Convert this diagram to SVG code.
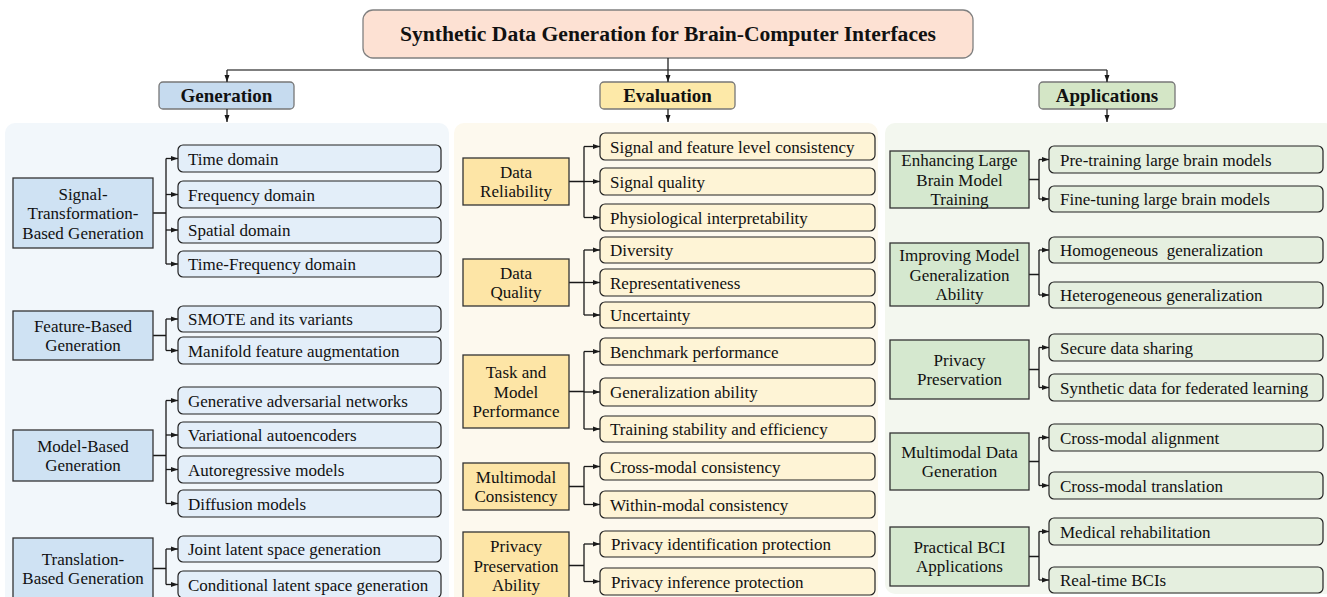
<svg xmlns="http://www.w3.org/2000/svg" width="1327" height="597" viewBox="0 0 1327 597">
<defs>
<marker id="ah" markerUnits="userSpaceOnUse" markerWidth="7" markerHeight="6" refX="7" refY="3" orient="auto">
<path d="M0,0.5 L7,3 L0,5.5 z" fill="#1a1a1a"/>
</marker>
<style>
text{font-family:"Liberation Serif","Times New Roman",serif;fill:#111}
.title{font-size:21.6px;font-weight:bold;text-anchor:middle}
.hdr{font-size:19px;font-weight:bold;text-anchor:middle}
.cat{font-size:17px;text-anchor:middle}
.leaf{font-size:17px}
.gc{fill:#cfe2f3;stroke:#333;stroke-width:1.3}
.gl{fill:#e3eef9;stroke:#222;stroke-width:1.2}
.ec{fill:#fde5a6;stroke:#333;stroke-width:1.3}
.el{fill:#fef4d6;stroke:#222;stroke-width:1.2}
.ac{fill:#d5e8cf;stroke:#333;stroke-width:1.3}
.al{fill:#e5efdf;stroke:#222;stroke-width:1.2}
.br{fill:none;stroke:#1a1a1a;stroke-width:1.3}
.ar{fill:none;stroke:#1a1a1a;stroke-width:1.3;marker-end:url(#ah)}
.top{fill:none;stroke:#555;stroke-width:1.4}
.topa{fill:none;stroke:#222;stroke-width:1.3;marker-end:url(#ah)}
</style>
</defs>
<rect width="1327" height="597" fill="#ffffff"/>
<g id="panels">
<rect x="5" y="123" width="444" height="490" rx="10" fill="#f2f7fb"/>
<rect x="454" y="123" width="424" height="490" rx="10" fill="#fdf9ee"/>
<rect x="885" y="123" width="450" height="471" rx="10" fill="#f3f7ef"/>
</g>
<g id="title">
<rect x="363" y="10" width="610" height="48" rx="10" fill="#fde1d3" stroke="#808080" stroke-width="1.3"/>
<text class="title" x="668" y="41">Synthetic Data Generation for Brain-Computer Interfaces</text>
</g>
<g id="hdr-generation">
<rect x="159" y="82" width="135" height="27" rx="4" fill="#c6dbef" stroke="#777" stroke-width="1.3"/>
<text class="hdr" x="226.5" y="102">Generation</text>
</g>
<g id="hdr-evaluation">
<rect x="600" y="82" width="135" height="27" rx="4" fill="#fde9a8" stroke="#777" stroke-width="1.3"/>
<text class="hdr" x="667.5" y="102">Evaluation</text>
</g>
<g id="hdr-applications">
<rect x="1039" y="82" width="136" height="27" rx="4" fill="#d4e6c6" stroke="#777" stroke-width="1.3"/>
<text class="hdr" x="1107" y="102">Applications</text>
</g>

<g id="connectors">
<path class="top" d="M227,70 H1107"/>
<path class="topa" d="M668,58 V82"/>
<path class="topa" d="M227,70 V82"/>
<path class="topa" d="M1107,70 V82"/>
<path class="topa" d="M227,109 V122"/>
<path class="topa" d="M668,109 V122"/>
<path class="topa" d="M1107,109 V122"/>
<!-- Generation -->
<path class="br" d="M153,213 H166 M166,158.5 V264"/>
<path class="ar" d="M166,158.5 H178"/><path class="ar" d="M166,194.5 H178"/><path class="ar" d="M166,230 H178"/><path class="ar" d="M166,264 H178"/>
<path class="br" d="M153,335.5 H166 M166,319 V350.5"/>
<path class="ar" d="M166,319 H178"/><path class="ar" d="M166,350.5 H178"/>
<path class="br" d="M153,455.5 H166 M166,400.5 V503.5"/>
<path class="ar" d="M166,400.5 H178"/><path class="ar" d="M166,435 H178"/><path class="ar" d="M166,469.5 H178"/><path class="ar" d="M166,503.5 H178"/>
<path class="br" d="M153,568.5 H166 M166,549 V584.5"/>
<path class="ar" d="M166,549 H178"/><path class="ar" d="M166,584.5 H178"/>
<!-- Evaluation -->
<path class="br" d="M569,181.5 H584 M584,146.5 V217.5"/>
<path class="ar" d="M584,146.5 H600"/><path class="ar" d="M584,181.5 H600"/><path class="ar" d="M584,217.5 H600"/>
<path class="br" d="M569,282.5 H584 M584,250 V315"/>
<path class="ar" d="M584,250 H600"/><path class="ar" d="M584,282.5 H600"/><path class="ar" d="M584,315 H600"/>
<path class="br" d="M569,391.5 H584 M584,351.5 V429"/>
<path class="ar" d="M584,351.5 H600"/><path class="ar" d="M584,392 H600"/><path class="ar" d="M584,429 H600"/>
<path class="br" d="M569,486.5 H584 M584,466.5 V504.5"/>
<path class="ar" d="M584,466.5 H600"/><path class="ar" d="M584,504.5 H600"/>
<path class="br" d="M569,565.5 H584 M584,544 V581.5"/>
<path class="ar" d="M584,544 H600"/><path class="ar" d="M584,581.5 H600"/>
<!-- Applications -->
<path class="br" d="M1029,179.5 H1039 M1039,159.5 V199"/>
<path class="ar" d="M1039,159.5 H1049"/><path class="ar" d="M1039,199 H1049"/>
<path class="br" d="M1029,274.5 H1039 M1039,250 V295"/>
<path class="ar" d="M1039,250 H1049"/><path class="ar" d="M1039,295 H1049"/>
<path class="br" d="M1029,369.5 H1039 M1039,347.5 V387.5"/>
<path class="ar" d="M1039,347.5 H1049"/><path class="ar" d="M1039,387.5 H1049"/>
<path class="br" d="M1029,461.5 H1039 M1039,437.5 V485.5"/>
<path class="ar" d="M1039,437.5 H1049"/><path class="ar" d="M1039,485.5 H1049"/>
<path class="br" d="M1029,556.5 H1039 M1039,531.5 V580"/>
<path class="ar" d="M1039,531.5 H1049"/><path class="ar" d="M1039,580 H1049"/>
</g>

<!-- Generation categories -->
<g id="gen-signal"><rect class="gc" x="13" y="178" width="140" height="70"/>
<text class="cat" x="83" y="199.5">Signal-</text><text class="cat" x="83" y="219">Transformation-</text><text class="cat" x="83" y="238.5">Based Generation</text></g>
<g id="gen-feature"><rect class="gc" x="13" y="311" width="140" height="49"/>
<text class="cat" x="83" y="331.75">Feature-Based</text><text class="cat" x="83" y="351.25">Generation</text></g>
<g id="gen-model"><rect class="gc" x="13" y="430" width="140" height="51"/>
<text class="cat" x="83" y="451.75">Model-Based</text><text class="cat" x="83" y="471.25">Generation</text></g>
<g id="gen-translation"><rect class="gc" x="13" y="538" width="140" height="62"/>
<text class="cat" x="83" y="564.75">Translation-</text><text class="cat" x="83" y="584.25">Based Generation</text></g>

<!-- Generation leaves -->
<g id="gen-l1"><rect class="gl" x="178" y="145" width="263" height="27" rx="5"/><text class="leaf" x="188" y="164.5">Time domain</text></g>
<g id="gen-l2"><rect class="gl" x="178" y="181" width="263" height="27" rx="5"/><text class="leaf" x="188" y="200.5">Frequency domain</text></g>
<g id="gen-l3"><rect class="gl" x="178" y="217" width="263" height="26" rx="5"/><text class="leaf" x="188" y="236">Spatial domain</text></g>
<g id="gen-l4"><rect class="gl" x="178" y="251" width="263" height="26" rx="5"/><text class="leaf" x="188" y="270">Time-Frequency domain</text></g>
<g id="gen-l5"><rect class="gl" x="178" y="306" width="263" height="26" rx="5"/><text class="leaf" x="188" y="325">SMOTE and its variants</text></g>
<g id="gen-l6"><rect class="gl" x="178" y="337" width="263" height="27" rx="5"/><text class="leaf" x="188" y="356.5">Manifold feature augmentation</text></g>
<g id="gen-l7"><rect class="gl" x="178" y="387" width="263" height="27" rx="5"/><text class="leaf" x="188" y="406.5">Generative adversarial networks</text></g>
<g id="gen-l8"><rect class="gl" x="178" y="422" width="263" height="26" rx="5"/><text class="leaf" x="188" y="441">Variational autoencoders</text></g>
<g id="gen-l9"><rect class="gl" x="178" y="456" width="263" height="27" rx="5"/><text class="leaf" x="188" y="475.5">Autoregressive models</text></g>
<g id="gen-l10"><rect class="gl" x="178" y="490" width="263" height="27" rx="5"/><text class="leaf" x="188" y="509.5">Diffusion models</text></g>
<g id="gen-l11"><rect class="gl" x="178" y="536" width="263" height="26" rx="5"/><text class="leaf" x="188" y="555">Joint latent space generation</text></g>
<g id="gen-l12"><rect class="gl" x="178" y="571" width="263" height="27" rx="5"/><text class="leaf" x="188" y="590.5">Conditional latent space generation</text></g>

<!-- Evaluation categories -->
<g id="eval-reliability"><rect class="ec" x="463" y="158" width="106" height="47"/>
<text class="cat" x="516" y="177.75">Data</text><text class="cat" x="516" y="197.25">Reliability</text></g>
<g id="eval-quality"><rect class="ec" x="463" y="259" width="106" height="47"/>
<text class="cat" x="516" y="278.75">Data</text><text class="cat" x="516" y="298.25">Quality</text></g>
<g id="eval-task"><rect class="ec" x="463" y="355" width="106" height="73"/>
<text class="cat" x="516" y="378">Task and</text><text class="cat" x="516" y="397.5">Model</text><text class="cat" x="516" y="417">Performance</text></g>
<g id="eval-multimodal"><rect class="ec" x="463" y="463" width="106" height="47"/>
<text class="cat" x="516" y="482.75">Multimodal</text><text class="cat" x="516" y="502.25">Consistency</text></g>
<g id="eval-privacy"><rect class="ec" x="463" y="532" width="106" height="68"/>
<text class="cat" x="516" y="552">Privacy</text><text class="cat" x="516" y="571.5">Preservation</text><text class="cat" x="516" y="591">Ability</text></g>

<!-- Evaluation leaves -->
<g id="eval-l1"><rect class="el" x="600" y="133" width="275" height="27" rx="5"/><text class="leaf" x="610" y="152.5">Signal and feature level consistency</text></g>
<g id="eval-l2"><rect class="el" x="600" y="168" width="275" height="27" rx="5"/><text class="leaf" x="610" y="187.5">Signal quality</text></g>
<g id="eval-l3"><rect class="el" x="600" y="204" width="275" height="27" rx="5"/><text class="leaf" x="610" y="223.5">Physiological interpretability</text></g>
<g id="eval-l4"><rect class="el" x="600" y="237" width="275" height="26" rx="5"/><text class="leaf" x="610" y="256">Diversity</text></g>
<g id="eval-l5"><rect class="el" x="600" y="269" width="275" height="27" rx="5"/><text class="leaf" x="610" y="288.5">Representativeness</text></g>
<g id="eval-l6"><rect class="el" x="600" y="302" width="275" height="26" rx="5"/><text class="leaf" x="610" y="321">Uncertainty</text></g>
<g id="eval-l7"><rect class="el" x="600" y="338" width="275" height="27" rx="5"/><text class="leaf" x="610" y="357.5">Benchmark performance</text></g>
<g id="eval-l8"><rect class="el" x="600" y="378" width="275" height="28" rx="5"/><text class="leaf" x="610" y="398">Generalization ability</text></g>
<g id="eval-l9"><rect class="el" x="600" y="416" width="275" height="26" rx="5"/><text class="leaf" x="610" y="435">Training stability and efficiency</text></g>
<g id="eval-l10"><rect class="el" x="600" y="453" width="275" height="27" rx="5"/><text class="leaf" x="610" y="472.5">Cross-modal consistency</text></g>
<g id="eval-l11"><rect class="el" x="600" y="491" width="275" height="27" rx="5"/><text class="leaf" x="610" y="510.5">Within-modal consistency</text></g>
<g id="eval-l12"><rect class="el" x="600" y="531" width="275" height="26" rx="5"/><text class="leaf" x="611" y="550">Privacy identification protection</text></g>
<g id="eval-l13"><rect class="el" x="600" y="568" width="275" height="27" rx="5"/><text class="leaf" x="611" y="587.5">Privacy inference protection</text></g>

<!-- Applications categories -->
<g id="app-enhancing"><rect class="ac" x="890" y="151" width="139" height="57"/>
<text class="cat" x="959.5" y="166">Enhancing Large</text><text class="cat" x="959.5" y="185.5">Brain Model</text><text class="cat" x="959.5" y="205">Training</text></g>
<g id="app-improving"><rect class="ac" x="890" y="243" width="139" height="63"/>
<text class="cat" x="959.5" y="261">Improving Model</text><text class="cat" x="959.5" y="280.5">Generalization</text><text class="cat" x="959.5" y="300">Ability</text></g>
<g id="app-privacy"><rect class="ac" x="890" y="340" width="139" height="59"/>
<text class="cat" x="959.5" y="365.75">Privacy</text><text class="cat" x="959.5" y="385.25">Preservation</text></g>
<g id="app-multimodal"><rect class="ac" x="890" y="433" width="139" height="57"/>
<text class="cat" x="959.5" y="457.75">Multimodal Data</text><text class="cat" x="959.5" y="477.25">Generation</text></g>
<g id="app-practical"><rect class="ac" x="890" y="527" width="139" height="59"/>
<text class="cat" x="959.5" y="552.75">Practical BCI</text><text class="cat" x="959.5" y="572.25">Applications</text></g>

<!-- Applications leaves -->
<g id="app-l1"><rect class="al" x="1049" y="146" width="274" height="27" rx="5"/><text class="leaf" x="1060" y="165.5">Pre-training large brain models</text></g>
<g id="app-l2"><rect class="al" x="1049" y="186" width="274" height="26" rx="5"/><text class="leaf" x="1060" y="205">Fine-tuning large brain models</text></g>
<g id="app-l3"><rect class="al" x="1049" y="237" width="274" height="26" rx="5"/><text class="leaf" x="1060" y="256">Homogeneous&#160; generalization</text></g>
<g id="app-l4"><rect class="al" x="1049" y="282" width="274" height="26" rx="5"/><text class="leaf" x="1060" y="301">Heterogeneous generalization</text></g>
<g id="app-l5"><rect class="al" x="1049" y="334" width="274" height="27" rx="5"/><text class="leaf" x="1060" y="353.5">Secure data sharing</text></g>
<g id="app-l6"><rect class="al" x="1049" y="374" width="274" height="27" rx="5"/><text class="leaf" x="1060" y="393.5">Synthetic data for federated learning</text></g>
<g id="app-l7"><rect class="al" x="1049" y="424" width="274" height="27" rx="5"/><text class="leaf" x="1060" y="443.5">Cross-modal alignment</text></g>
<g id="app-l8"><rect class="al" x="1049" y="472" width="274" height="27" rx="5"/><text class="leaf" x="1060" y="491.5">Cross-modal translation</text></g>
<g id="app-l9"><rect class="al" x="1049" y="518" width="274" height="27" rx="5"/><text class="leaf" x="1060" y="537.5">Medical rehabilitation</text></g>
<g id="app-l10"><rect class="al" x="1049" y="567" width="274" height="26" rx="5"/><text class="leaf" x="1060" y="586">Real-time BCIs</text></g>
</svg>
